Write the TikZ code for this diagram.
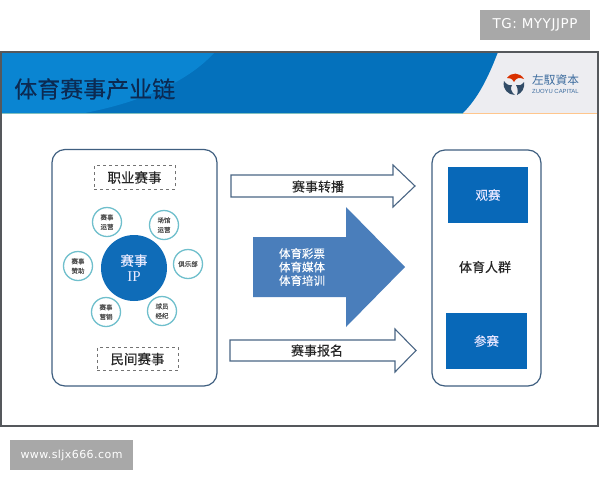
\documentclass[tikz,border=0pt]{standalone}
\usepackage{fontspec}
\setmainfont{Noto Sans CJK SC}
\newfontfamily\medfont{Noto Sans CJK SC}[FakeBold=0.2]
\newfontfamily\tcfont{Noto Sans CJK TC}
\newfontfamily\latinfont{DejaVu Sans}[LetterSpace=4]
\newfontfamily\capfont{Liberation Sans}
\newfontfamily\ipfont{Liberation Serif}
\definecolor{barblue}{HTML}{0471BC}
\definecolor{glossblue}{HTML}{0A85D2}
\definecolor{paleside}{HTML}{EDEDF1}
\definecolor{framegray}{HTML}{55585C}
\definecolor{boxline}{HTML}{3F5F80}
\definecolor{brandblue}{HTML}{3D6C9E}
\definecolor{arrowline}{HTML}{4A6685}
\definecolor{bigarrow}{HTML}{4A7EBB}
\definecolor{ringteal}{HTML}{6FBFCC}
\definecolor{hubblue}{HTML}{0F6CB8}
\definecolor{tilblue}{HTML}{0868B8}
\definecolor{markgray}{HTML}{A8A8A8}
\definecolor{titleink}{HTML}{0C2A52}
\tikzset{
  panel/.style={draw=boxline,line width=1.2pt,fill=white,rounded corners=13pt},
  dashbox/.style={draw=black!55,dashed,line width=.9pt,minimum width=81pt,minimum height=23.5pt,inner sep=0pt,font=\medfont\fontsize{13.5}{15}\selectfont,text=black!85},
  spoke/.style={circle,draw=ringteal,line width=1.3pt,fill=white,minimum size=29pt,inner sep=0pt,align=center,font=\medfont\fontsize{6.5}{9.5}\selectfont,text=black!70},
  hub/.style={circle,fill=hubblue,minimum size=66pt,inner sep=0pt,align=center,text=white!92!blue,font=\medfont\fontsize{13.5}{17}\selectfont},
  outlinearrow/.style={draw=arrowline,line width=1.1pt,fill=white,line join=miter},
  arrowlabel/.style={font=\medfont\fontsize{13}{15}\selectfont,text=black!85},
  tile/.style={fill=tilblue,inner sep=0pt,text=white!90!blue,font=\medfont\fontsize{12.5}{15}\selectfont},
  stamp/.style={fill=markgray,text=white,inner sep=0pt}
}
\begin{document}
\begin{tikzpicture}[x=1pt,y=-1pt]
\useasboundingbox (0,0) rectangle (600,480);
\fill[white] (0,0) rectangle (600,480);
% slide
\fill[paleside] (1,52) rectangle (598,113);
\fill[barblue] (1,52) -- (498,52) .. controls (488,78) and (478,98) .. (463,113) -- (1,113) -- cycle;
\fill[glossblue] (1,52) -- (215,52) .. controls (185,85) and (135,103) .. (85,113) -- (1,113) -- cycle;
\draw[draw=orange!45,line width=.6pt] (463,113) -- (598,113);
\draw[draw=teal!50,line width=.6pt] (1,113) -- (463,113);
\draw[framegray,line width=1.1pt] (1,52) rectangle (598,426);
\node[anchor=west,inner sep=0pt,text=titleink,font=\medfont\fontsize{23}{25}\selectfont] (title) at (14,89) {体育赛事产业链};
% logo
\begin{scope}[shift={(514,84)}]
\fill[red!55!orange!85!black] (-7,-6) .. controls (-3,-12) and (6,-12) .. (10,-5) .. controls (5,-7) and (2,-6) .. (0,-2) .. controls (-2,-6) and (-5,-6) .. (-7,-6) -- cycle;
\fill[boxline!80!black] (-10,-3) .. controls (-12,5) and (-6,11) .. (1,11) .. controls (-3,8) and (-4,4) .. (-2,1) .. controls (-5,2) and (-8,0) .. (-10,-3) -- cycle;
\fill[boxline!80!black] (3,11) .. controls (8,9) and (11,4) .. (10,-2) .. controls (8,1) and (5,2) .. (2,1) .. controls (4,4) and (4,8) .. (3,11) -- cycle;
\end{scope}
\node[anchor=west,inner sep=0pt,text=brandblue,font=\tcfont\fontsize{11.7}{13}\selectfont] (brand) at (532,80) {左馭資本};
\node[anchor=west,inner sep=0pt,text=brandblue,font=\capfont\fontsize{5.9}{7}\selectfont] (brandlatin) at (532,91.5) {ZUOYU CAPITAL};
% left panel
\draw[panel] (52,149.5) rectangle (217,386);
\node[dashbox] (pro) at (134.5,177.5) {职业赛事};
\node[dashbox] (folk) at (137.5,359) {民间赛事};
\node[hub] (ip) at (134,268) {赛事\\[-1pt]{\ipfont\fontsize{15}{17}\selectfont IP}};
\node[spoke] (s1) at (107,222) {赛事\\运营};
\node[spoke] (s2) at (164,225) {场馆\\运营};
\node[spoke] (s3) at (188,264) {俱乐部};
\node[spoke] (s4) at (162,311) {球员\\经纪};
\node[spoke] (s5) at (106,312) {赛事\\营销};
\node[spoke] (s6) at (78,266) {赛事\\赞助};
% arrows
\draw[outlinearrow] (231,175) -- (393,175) -- (393,165) -- (415,186) -- (393,207) -- (393,197) -- (231,197) -- cycle;
\node[arrowlabel] (relay) at (318,186.5) {赛事转播};
\draw[outlinearrow] (230,340) -- (395,340) -- (395,329) -- (416,350.5) -- (395,372) -- (395,361) -- (230,361) -- cycle;
\node[arrowlabel] (signup) at (317,350.5) {赛事报名};
\fill[bigarrow] (253,237) -- (346,237) -- (346,207) -- (405,267) -- (346,327) -- (346,297) -- (253,297) -- cycle;
\node[align=center,text=white,font=\medfont\fontsize{11.5}{13.5}\selectfont] (mid) at (302,267) {体育彩票\\体育媒体\\体育培训};
% right panel
\draw[panel] (432,150) rectangle (541,386);
\node[tile,minimum width=80pt,minimum height=56pt] (watch) at (488,195) {观赛};
\node[arrowlabel] (crowd) at (485,267) {体育人群};
\node[tile,minimum width=81pt,minimum height=56pt] (join) at (486.5,341) {参赛};
% watermarks
\node[stamp,minimum width=110pt,minimum height=30pt,font=\latinfont\fontsize{13.5}{15}\selectfont] (tg) at (535,25) {TG: MYYJJPP};
\node[stamp,minimum width=123pt,minimum height=30pt,font=\latinfont\fontsize{11}{13}\selectfont] (web) at (71.5,455) {www.sljx666.com};
\end{tikzpicture}
\end{document}
